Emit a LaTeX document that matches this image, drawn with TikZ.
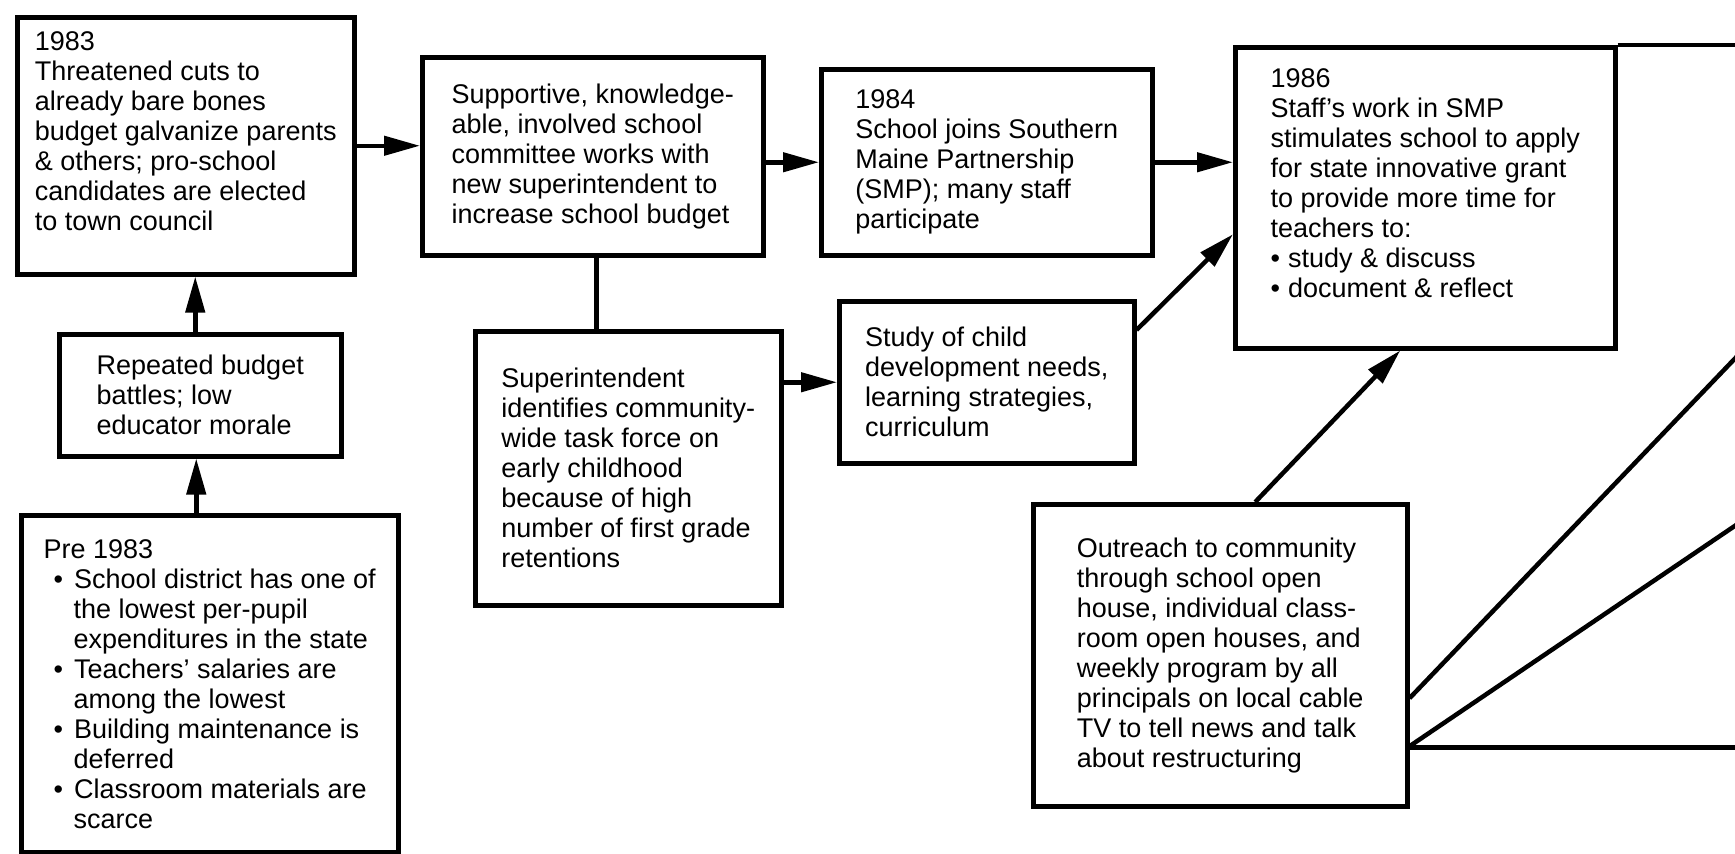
\documentclass[tikz,border=0pt]{standalone}
\usepackage{fontspec}
\setmainfont{Liberation Sans}
\usetikzlibrary{arrows.meta}
\tikzstyle{eventbox} = [rectangle, draw=black, line width=4.5pt, align=left, inner xsep=8pt, anchor=north west, font=\fontsize{27}{30}\selectfont]
\tikzstyle{arrow} = [line width=4.5pt, -{Triangle[length=36pt, width=19pt]}]
\tikzstyle{plainline} = [line width=4.5pt]
\newcommand{\bulletitem}{\hspace*{10pt}\textbullet\hspace{11pt}}
\newcommand{\bulletindent}{\hspace*{30pt}}

\begin{document}
\begin{tikzpicture}[x=1pt, y=-1pt]
    \useasboundingbox (0,0) rectangle (1735,854);

    \node (n1983) [eventbox, minimum width=337pt, minimum height=257pt] at (15,15) {1983\\Threatened cuts to\\already bare bones\\budget galvanize parents\\\& others; pro-school\\candidates are elected\\to town council\\\mbox{}};
    \node (budget) [eventbox, minimum width=282pt, minimum height=122pt] at (57,332) {Repeated budget\\battles; low\\educator morale};
    \node (pre) [eventbox, minimum width=377pt, minimum height=337pt] at (19,513) {Pre 1983\\
        \bulletitem School district has one of\\\bulletindent the lowest per-pupil\\\bulletindent expenditures in the state\\
        \bulletitem Teachers' salaries are\\\bulletindent among the lowest\\
        \bulletitem Building maintenance is\\\bulletindent deferred\\
        \bulletitem Classroom materials are\\\bulletindent scarce};
    \node (committee) [eventbox, minimum width=341pt, minimum height=198pt] at (420,55) {Supportive, knowledge-\\able, involved school\\committee works with\\new superintendent to\\increase school budget};
    \node (superint) [eventbox, minimum width=306pt, minimum height=274pt] at (473,329) {Superintendent\\identifies community-\\wide task force on\\early childhood\\because of high\\number of first grade\\retentions};
    \node (n1984) [eventbox, minimum width=331pt, minimum height=186pt] at (819,67) {1984\\School joins Southern\\Maine Partnership\\(SMP); many staff\\participate};
    \node (study) [eventbox, minimum width=295pt, minimum height=162pt] at (837,299) {Study of child\\development needs,\\learning strategies,\\curriculum};
    \node (n1986) [eventbox, minimum width=380pt, minimum height=301pt] at (1233,45) {1986\\Staff's work in SMP\\stimulates school to apply\\for state innovative grant\\to provide more time for\\teachers to:\\\textbullet\hspace{8pt}study \& discuss\\\textbullet\hspace{8pt}document \& reflect\\\mbox{}};
    \node (outreach) [eventbox, minimum width=374pt, minimum height=302pt] at (1031,502) {Outreach to community\\through school open\\house, individual class-\\room open houses, and\\weekly program by all\\principals on local cable\\TV to tell news and talk\\about restructuring};

    % free ends at the right rim
    \coordinate (rimTop) at (1745,0);
    \coordinate (rimA) at (1745,348);
    \coordinate (rimB) at (1745,519);
    \coordinate (rimC) at (1745,0);

    \draw [arrow] ([xshift=-13.5pt]pre.north) -- ([xshift=-13.5pt]pre.north |- budget.south);
    \draw [arrow] ([xshift=-5pt]budget.north) -- ([xshift=-5pt]budget.north |- n1983.south);
    \draw [arrow] (n1983.east) -- (n1983.east -| committee.west);
    \draw [arrow] (n1984.west -| committee.east) -- (n1984.west);
    \draw [arrow] (n1984.east) -- (n1984.east -| n1986.west);
    \draw [plainline] ([xshift=3.5pt]committee.south) -- ([xshift=3.5pt]committee.south |- superint.north);
    \draw [arrow] (study.west -| superint.east) -- (study.west);
    \draw [arrow] ([yshift=-31pt]study.north east) -- ([yshift=-36.5pt]n1986.west);
    \draw [arrow] ([xshift=35pt]outreach.north) -- ([xshift=-25pt]n1986.south);
    \draw [plainline] (n1986.north east) -- (n1986.north east -| rimTop);
    \draw [plainline] ([yshift=-43pt]outreach.east) -- (rimA);
    \draw [plainline] ([yshift=-91pt]outreach.east) -- (rimB);
    \draw [plainline] ([yshift=-92pt]outreach.east) -- ([yshift=-92pt]outreach.east -| rimC);
\end{tikzpicture}
\end{document}
